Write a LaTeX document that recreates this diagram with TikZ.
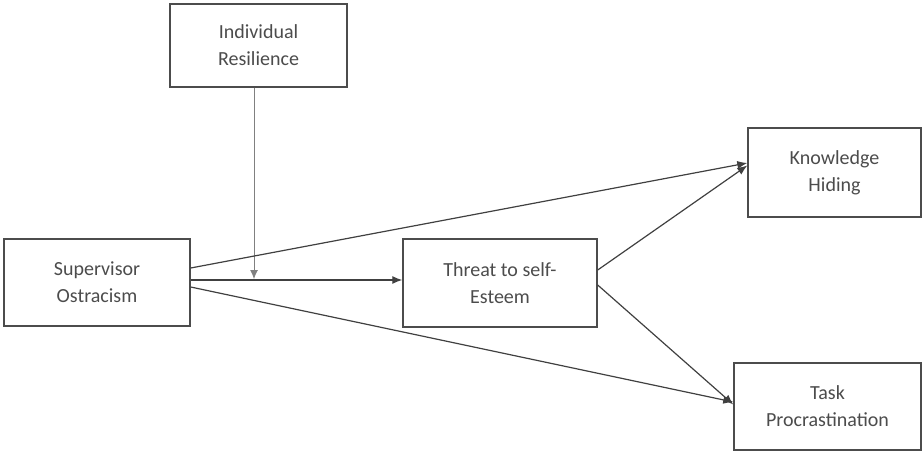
\documentclass[tikz,border=0pt]{standalone}
\usepackage{fontspec}
\setmainfont{Carlito}
\usetikzlibrary{arrows.meta}
\begin{document}
\begin{tikzpicture}[x=1pt,y=-1pt,
  box/.style={draw=black!70, line width=1.4pt, fill=white, align=center, text=black!70,
    font=\fontsize{20}{27}\selectfont, inner sep=0pt},
  conn/.style={draw=black!75, line width=1.2pt, -{Latex[length=10pt,width=8pt]}},
  modconn/.style={draw=black!50, line width=0.9pt, -{Latex[length=9pt,width=8pt]}}]
\useasboundingbox (0,0) rectangle (923,455);
\node[box, minimum width=177pt, minimum height=83pt] (ir) at (258.5,45.5) {Individual\\Resilience};
\node[box, minimum width=186pt, minimum height=87pt] (so) at (97,282.5) {Supervisor\\Ostracism};
\node[box, minimum width=194pt, minimum height=88pt] (th) at (500,283) {Threat to self-\\Esteem};
\node[box, minimum width=173pt, minimum height=89pt] (kh) at (834.5,172.5) {Knowledge\\Hiding};
\node[box, minimum width=187pt, minimum height=87pt] (tp) at (827.5,406.5) {Task\\Procrastination};
\coordinate (m) at (254,279);
\draw[conn] ([yshift=2.5pt]so.east) -- ([yshift=3pt]th.west);
\draw[modconn] ([xshift=-4.5pt]ir.south) -- (m);
\draw[conn] ([yshift=14.5pt]so.east) -- ([yshift=9.5pt]kh.west);
\draw[conn] ([yshift=-4.5pt]so.east) -- ([yshift=4.5pt]tp.west);
\draw[conn] ([yshift=13pt]th.east) -- ([yshift=7pt]kh.west);
\draw[conn] ([yshift=-2pt]th.east) -- ([yshift=2pt]tp.west);
\end{tikzpicture}
\end{document}
